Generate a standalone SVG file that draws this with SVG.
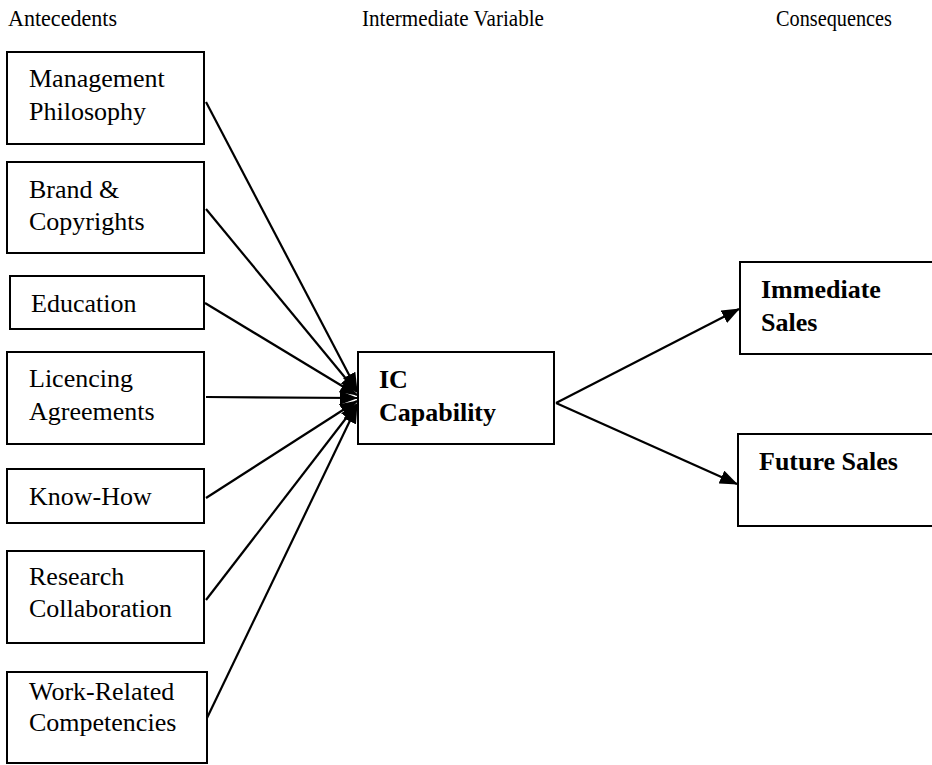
<svg xmlns="http://www.w3.org/2000/svg" width="932" height="765" viewBox="0 0 932 765">
<style>
.box{fill:#fff;stroke:#000;stroke-width:2}
.t{font-family:"Liberation Serif","Times New Roman",serif;font-size:26px;fill:#000}
.b{font-weight:bold}
.h{font-family:"Liberation Serif","Times New Roman",serif;font-size:24px;fill:#000}
.c{stroke:#000;stroke-width:2.2;fill:none;marker-end:url(#ah)}
</style>
<defs>
<marker id="ah" viewBox="0 0 18 14" refX="17" refY="7" markerWidth="18" markerHeight="14" orient="auto" markerUnits="userSpaceOnUse">
<path d="M0,0 L18,7 L0,14 z" fill="#000"/>
</marker>
</defs>
<rect width="932" height="765" fill="#fff"/>
<g id="headers">
<text class="h" x="8" y="26" textLength="109" lengthAdjust="spacingAndGlyphs">Antecedents</text>
<text class="h" x="362" y="26" textLength="182" lengthAdjust="spacingAndGlyphs">Intermediate Variable</text>
<text class="h" x="776" y="26" textLength="116" lengthAdjust="spacingAndGlyphs">Consequences</text>
</g>
<g id="connectors">
<line class="c" x1="206" y1="102" x2="357" y2="390"/>
<line class="c" x1="206" y1="209" x2="357" y2="392"/>
<line class="c" x1="205" y1="303" x2="357" y2="395"/>
<line class="c" x1="206" y1="397" x2="357" y2="398"/>
<line class="c" x1="206" y1="498" x2="357" y2="401"/>
<line class="c" x1="206" y1="600" x2="357" y2="404"/>
<line class="c" x1="207" y1="718" x2="357" y2="406"/>
<line class="c" x1="556" y1="403" x2="739" y2="309"/>
<line class="c" x1="556" y1="403" x2="737" y2="484"/>
</g>
<g id="n-management">
<rect class="box" x="7" y="52" width="197" height="92"/>
<text class="t" x="29" y="87">Management</text>
<text class="t" x="29" y="120">Philosophy</text>
</g>
<g id="n-brand">
<rect class="box" x="7" y="162" width="197" height="91"/>
<text class="t" x="29" y="198">Brand &amp;</text>
<text class="t" x="29" y="230">Copyrights</text>
</g>
<g id="n-education">
<rect class="box" x="10" y="276" width="194" height="53"/>
<text class="t" x="31" y="312">Education</text>
</g>
<g id="n-licencing">
<rect class="box" x="7" y="352" width="197" height="92"/>
<text class="t" x="29" y="387">Licencing</text>
<text class="t" x="29" y="420">Agreements</text>
</g>
<g id="n-knowhow">
<rect class="box" x="7" y="469" width="197" height="54"/>
<text class="t" x="29" y="505">Know-How</text>
</g>
<g id="n-research">
<rect class="box" x="7" y="551" width="197" height="92"/>
<text class="t" x="29" y="585">Research</text>
<text class="t" x="29" y="617">Collaboration</text>
</g>
<g id="n-work">
<rect class="box" x="7" y="672" width="200" height="91"/>
<text class="t" x="29" y="700">Work-Related</text>
<text class="t" x="29" y="731">Competencies</text>
</g>
<g id="n-ic">
<rect class="box" x="358" y="352" width="196" height="92"/>
<text class="t b" x="379" y="388">IC</text>
<text class="t b" x="379" y="421">Capability</text>
</g>
<g id="n-immediate">
<rect class="box" x="740" y="262" width="200" height="92"/>
<text class="t b" x="761" y="298">Immediate</text>
<text class="t b" x="761" y="331">Sales</text>
</g>
<g id="n-future">
<rect class="box" x="738" y="434" width="202" height="92"/>
<text class="t b" x="759" y="470">Future Sales</text>
</g>
</svg>
